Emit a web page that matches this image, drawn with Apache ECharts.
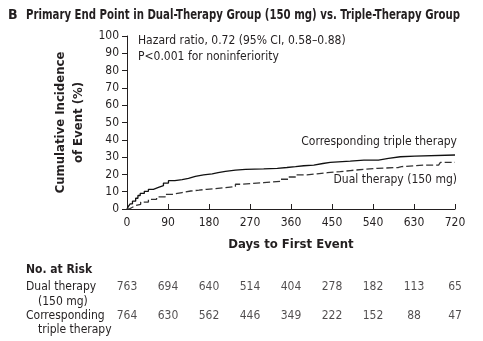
<!DOCTYPE html>
<html><head><meta charset="utf-8">
<script src="https://cdn.jsdelivr.net/npm/echarts@6/dist/echarts.min.js"></script>
<style>html,body{margin:0;padding:0;background:#fff}#c{width:483px;height:341px}</style>
</head><body><div id="c"></div>
<script>
var FONT = "'DejaVu Sans Condensed', 'DejaVu Sans', sans-serif";
var xTicks = [0, 90, 180, 270, 360, 450, 540, 630, 720];
var tripleDays = [0,3,7,12,19,24,29,38,47,58,69,80,91,105,121,135,150,168,187,200,216,238,260,300,330,351,370,388,410,430,446,490,520,545,552,574,600,632,720];
var tripleVals = [0,1.5,3,4.5,6.2,7.8,9,10.2,11.4,12.5,13.5,15,16.4,17,17.7,18.8,19.7,20.3,21,21.8,22.5,22.9,23.2,23.5,24,24.5,25,25.4,26.3,27,27.7,28.3,28.3,28.3,29.3,30.2,30.6,31.2,31.2];
var dualDays = [0,5,12,19,30,47,65,84,100,121,140,158,175,194,215,238,250,271,300,337,355,373,395,417,440,468,490,501,550,596,603,650,684,688,720];
var dualVals = [0,1,2,2.7,4,5.6,7,8.5,9.5,10.4,10.9,11.4,11.8,12.3,13,14.3,14.7,15.2,16,17.2,18.5,19.7,20.3,21,21.6,22.2,22.5,23.5,24,24.5,25.4,25.4,25.4,27,27];
var riskDual = [763, 694, 640, 514, 404, 278, 182, 113, 65];
var riskTriple = [764, 630, 562, 446, 349, 222, 152, 88, 47];
var titleText = 'Primary End Point in Dual-Therapy Group (150 mg) vs. Triple-Therapy Group';

var TXT = '#231f20';
function pairs(xs, ys){ return xs.map(function(x,i){ return [x, ys[i]]; }); }
function riskData(arr, row){ return arr.map(function(v,i){ return [xTicks[i], row, v]; }); }

var titleFont = 'bold 14px ' + FONT;
var cv = document.createElement('canvas').getContext('2d');
cv.font = titleFont;
var titleScale = 434 / cv.measureText(titleText).width;

var chart = echarts.init(document.getElementById('c'), null, {renderer:'canvas'});
chart.setOption({
  animation:false,
  textStyle:{fontFamily:FONT},
  grid:[
    {left:127, right:28, top:36, bottom:132},
    {left:127, right:28, top:287, height:29}
  ],
  xAxis:[
    {gridIndex:0, type:'value', min:0, max:720, interval:90,
     axisLine:{lineStyle:{color:'#231f20', width:1}},
     axisTick:{inside:true, length:5, lineStyle:{color:'#231f20'}},
     axisLabel:{color:TXT, fontSize:12, margin:8, fontFamily:FONT},
     splitLine:{show:false},
     name:'Days to First Event', nameLocation:'middle', nameGap:29,
     nameTextStyle:{color:TXT, fontSize:13, fontWeight:'bold', fontFamily:FONT}},
    {gridIndex:1, type:'value', min:0, max:720, show:false}
  ],
  yAxis:[
    {gridIndex:0, type:'value', min:0, max:100, interval:10,
     axisLine:{show:true, lineStyle:{color:'#231f20', width:1}},
     axisTick:{show:true, length:5, lineStyle:{color:'#231f20'}},
     axisLabel:{color:TXT, fontSize:12, margin:8, fontFamily:FONT},
     splitLine:{show:false},
     name:'Cumulative Incidence\nof Event (%)', nameLocation:'middle', nameGap:36,
     nameTextStyle:{color:TXT, fontSize:13, fontWeight:'bold', fontFamily:FONT, lineHeight:18}},
    {gridIndex:1, type:'value', min:0, max:1, show:false}
  ],
  series:[
    {type:'line', xAxisIndex:0, yAxisIndex:0, step:'end', symbol:'none',
     data:pairs(tripleDays, tripleVals), lineStyle:{color:'#111', width:1.3}},
    {type:'line', xAxisIndex:0, yAxisIndex:0, step:'end', symbol:'none',
     data:pairs(dualDays, dualVals), lineStyle:{color:'#333', width:1.3, type:[7,3]}},
    {type:'scatter', xAxisIndex:1, yAxisIndex:1, symbolSize:0, data:riskData(riskDual,1),
     label:{show:true, position:'inside', color:TXT, fontSize:12, fontFamily:FONT,
       formatter:function(p){return p.value[2];}}},
    {type:'scatter', xAxisIndex:1, yAxisIndex:1, symbolSize:0, data:riskData(riskTriple,0),
     label:{show:true, position:'inside', color:TXT, fontSize:12, fontFamily:FONT,
       formatter:function(p){return p.value[2];}}}
  ],
  graphic:[
    {type:'text', x:8, y:8, style:{text:'B', font:'bold 14px '+FONT, fill:TXT}},
    {type:'text', x:26, y:8, scaleX:titleScale, style:{text:titleText, font:titleFont, fill:TXT}},
    {type:'text', left:138, top:35, style:{text:'Hazard ratio, 0.72 (95% CI, 0.58\u20130.88)', font:'12px '+FONT, fill:TXT}},
    {type:'text', left:138, top:51, style:{text:'P<0.001 for noninferiority', font:'12px '+FONT, fill:TXT}},
    {type:'text', right:26, top:136, style:{text:'Corresponding triple therapy', font:'12px '+FONT, fill:TXT}},
    {type:'text', right:26, top:174, style:{text:'Dual therapy (150 mg)', font:'12px '+FONT, fill:TXT}},
    {type:'text', left:26, top:264, style:{text:'No. at Risk', font:'bold 12px '+FONT, fill:TXT}},
    {type:'text', left:26, top:281, style:{text:'Dual therapy', font:'12px '+FONT, fill:TXT}},
    {type:'text', left:38, top:296, style:{text:'(150 mg)', font:'12px '+FONT, fill:TXT}},
    {type:'text', left:26, top:310, style:{text:'Corresponding', font:'12px '+FONT, fill:TXT}},
    {type:'text', left:38, top:324, style:{text:'triple therapy', font:'12px '+FONT, fill:TXT}}
  ]
});
</script></body></html>
